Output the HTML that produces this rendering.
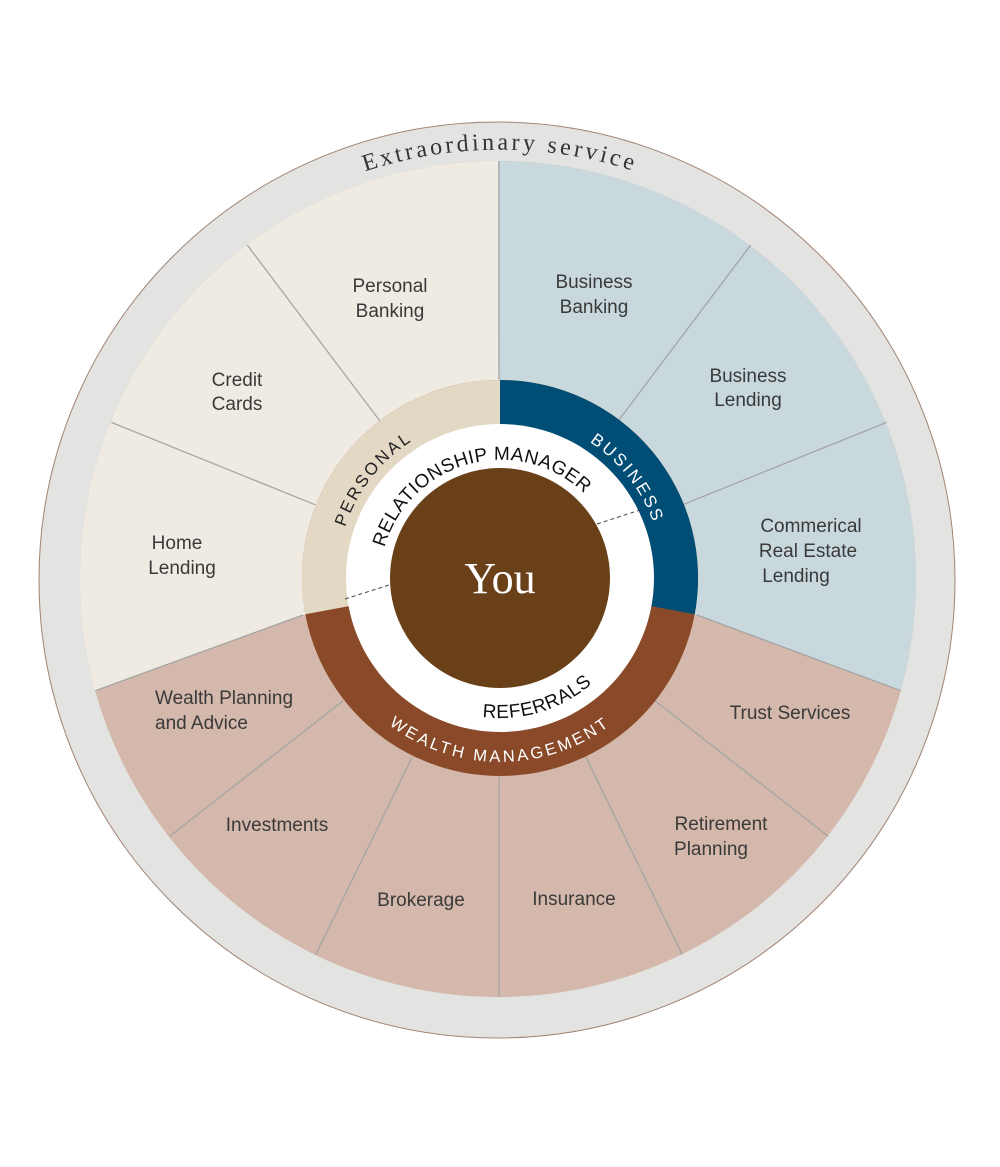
<!DOCTYPE html>
<html><head><meta charset="utf-8"><style>
html,body{margin:0;padding:0;background:#fff;}
svg{display:block;}
.l{font-family:"Liberation Sans",sans-serif;font-size:19px;fill:#3a3a3a;text-anchor:middle;}
</style></head><body>
<svg width="1000" height="1167" viewBox="0 0 1000 1167" xmlns="http://www.w3.org/2000/svg">
<defs>
<path id="pEx" d="M284.5,207.7 A429,429 0 0 1 715.5,207.7"/>
<path id="pRM" d="M400.1,648 A121,121 0 1 1 621.5,588.6"/>
<path id="pPer" d="M338.6,555.3 A163,163 0 0 1 438.9,426.9"/>
<path id="pBus" d="M561.1,426.9 A163,163 0 0 1 661.4,555.3"/>
<path id="pWM" d="M340.7,670 A184,184 0 0 0 659.3,670"/>
<path id="pRef" d="M404.5,680.4 A140,140 0 0 0 636.4,609.5"/>
</defs>
<circle cx="497" cy="580" r="458" fill="#e3e3e1" stroke="#a08472" stroke-width="1"/>
<circle cx="498" cy="579" r="418" fill="#d4b8ab"/>
<path d="M499,579 L303,615 L95.2,690.7 A418,418 0 0 1 498,161 Z" fill="#f0ebe2"/>
<path d="M499,579 L498,161 A418,418 0 0 1 900.8,690.7 L697,615 Z" fill="#c8d8dc"/>
<g stroke="#a5a5a5" stroke-width="1.3">
<line x1="499" y1="161" x2="499" y2="381"/>
<line x1="379.8" y1="420.9" x2="247.4" y2="245.2"/>
<line x1="315.4" y1="504.8" x2="111.4" y2="422.4"/>
<line x1="618.2" y1="420.9" x2="750.6" y2="245.2"/>
<line x1="682.6" y1="504.8" x2="886.6" y2="422.4"/>
<line x1="303" y1="615" x2="95.2" y2="690.7"/>
<line x1="697" y1="615" x2="900.8" y2="690.7"/>
<line x1="655" y1="700.9" x2="828.4" y2="836.4"/>
<line x1="585.8" y1="757" x2="682.3" y2="954.7"/>
<line x1="499" y1="777" x2="499" y2="997"/>
<line x1="412.2" y1="757" x2="315.7" y2="954.7"/>
<line x1="343" y1="700.9" x2="169.6" y2="836.4"/>
</g>
<circle cx="500" cy="578" r="198" fill="#8a4a2a"/>
<path d="M500,578 L500,380 A198,198 0 0 0 305.3,614.2 Z" fill="#e3d8c4"/>
<path d="M500,578 L500,380 A198,198 0 0 1 694.7,614.2 Z" fill="#004e75"/>
<circle cx="500" cy="578" r="154" fill="#fff"/>
<circle cx="500" cy="578" r="110" fill="#6a4019"/>
<g stroke="#444" stroke-width="1" stroke-dasharray="4,3">
<line x1="345" y1="599" x2="389" y2="585"/>
<line x1="597" y1="524" x2="640" y2="510"/>
</g>
<text x="500" y="593" text-anchor="middle" font-family="Liberation Serif,serif" font-size="44" fill="#fff">You</text>
<text font-family="Liberation Serif,serif" font-size="24" fill="#333" letter-spacing="3.2"><textPath href="#pEx" startOffset="50%" text-anchor="middle">Extraordinary service</textPath></text>
<text font-family="Liberation Sans,sans-serif" font-size="19" fill="#111" letter-spacing="0.5"><textPath href="#pRM" startOffset="50%" text-anchor="middle">RELATIONSHIP MANAGER</textPath></text>
<text font-family="Liberation Sans,sans-serif" font-size="17" fill="#222" letter-spacing="2.5"><textPath href="#pPer" startOffset="50%" text-anchor="middle">PERSONAL</textPath></text>
<text font-family="Liberation Sans,sans-serif" font-size="17" fill="#fff" letter-spacing="2.5"><textPath href="#pBus" startOffset="50%" text-anchor="middle">BUSINESS</textPath></text>
<text font-family="Liberation Sans,sans-serif" font-size="16.5" fill="#fff" letter-spacing="2.8"><textPath href="#pWM" startOffset="50%" text-anchor="middle">WEALTH MANAGEMENT</textPath></text>
<text font-family="Liberation Sans,sans-serif" font-size="19" fill="#111" letter-spacing="0.5"><textPath href="#pRef" startOffset="50%" text-anchor="middle">REFERRALS</textPath></text>
<text class="l" x="390" y="292">Personal</text><text class="l" x="390" y="317">Banking</text>
<text class="l" x="237" y="386">Credit</text><text class="l" x="237" y="410">Cards</text>
<text class="l" x="177" y="549">Home</text><text class="l" x="182" y="574">Lending</text>
<text class="l" x="594" y="288">Business</text><text class="l" x="594" y="313">Banking</text>
<text class="l" x="748" y="382">Business</text><text class="l" x="748" y="406">Lending</text>
<text class="l" x="811" y="532">Commerical</text><text class="l" x="808" y="557">Real Estate</text><text class="l" x="796" y="582">Lending</text>
<text class="l" x="155" y="704" style="text-anchor:start">Wealth Planning</text><text class="l" x="155" y="729" style="text-anchor:start">and Advice</text>
<text class="l" x="277" y="831">Investments</text>
<text class="l" x="421" y="906">Brokerage</text>
<text class="l" x="574" y="905">Insurance</text>
<text class="l" x="721" y="830">Retirement</text><text class="l" x="711" y="855">Planning</text>
<text class="l" x="790" y="719">Trust Services</text>
</svg>
</body></html>
